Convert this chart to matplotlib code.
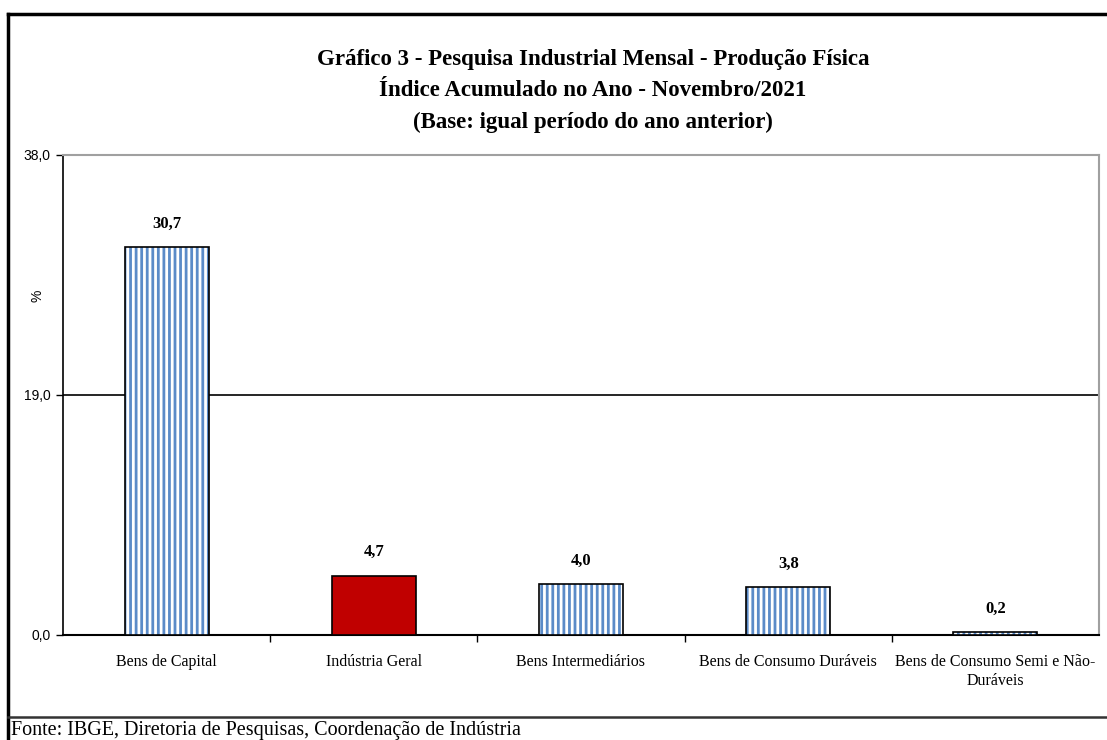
import matplotlib.pyplot as plt
from matplotlib.lines import Line2D
import numpy as np

# data
categorias = ["Bens de Capital", "Indústria Geral", "Bens Intermediários",
              "Bens de Consumo Duráveis", "Bens de Consumo Semi e Não-\nDuráveis"]
valores = [30.7, 4.7, 4.0, 3.8, 0.2]
rotulos = ["30,7", "4,7", "4,0", "3,8", "0,2"]
yticks = [0.0, 19.0, 38.0]
ytick_labels = ["0,0", "19,0", "38,0"]

azul = "#5B8BC8"
vermelho = "#C00000"

plt.rcParams['hatch.linewidth'] = 2.0

fig = plt.figure(figsize=(11.07, 7.40), dpi=100)
ax = fig.add_axes([63 / 1107, 1 - 635 / 740, 1036 / 1107, 480 / 740])

x = np.arange(len(categorias))
largura = 0.405
for i, v in enumerate(valores):
    if i == 1:
        ax.bar(x[i], v, largura, color=vermelho, edgecolor="black", linewidth=1.2, zorder=3)
    else:
        ax.bar(x[i], v, largura, color="white", edgecolor=azul, hatch="|||", linewidth=0, zorder=3)
        ax.bar(x[i], v, largura, fill=False, edgecolor="black", linewidth=1.2, zorder=4)
    ax.annotate(rotulos[i], (x[i], v), xytext=(0, 11), textcoords="offset points",
                ha="center", va="bottom", fontsize=12, fontweight="bold",
                family="Liberation Serif")

ax.set_xlim(-0.5, len(categorias) - 0.5)
ax.set_ylim(0, 38)
ax.set_yticks(yticks)
ax.set_yticklabels(ytick_labels, family="Liberation Sans", fontsize=10)
ax.tick_params(axis="y", direction="out", length=5, width=1, pad=4)

ax.set_xticks(x)
ax.set_xticklabels(categorias, family="Liberation Serif", fontsize=11.5)
ax.tick_params(axis="x", which="major", length=0, pad=14)
ax.set_xticks(np.arange(0.5, len(categorias) - 0.5, 1.0), minor=True)
ax.tick_params(axis="x", which="minor", direction="out", length=5, width=1)

ax.axhline(19, color="black", linewidth=1.2, zorder=2)

for s in ["top", "right"]:
    ax.spines[s].set_color("#A0A0A0")
    ax.spines[s].set_linewidth(1.5)
ax.spines["left"].set_linewidth(1.2)
ax.spines["bottom"].set_linewidth(1.5)

fig.text(37 / 1107, 1 - 296 / 740, "%", rotation=90, ha="center", va="center",
         fontsize=10, family="Liberation Sans")

titulo = ("Gráfico 3 - Pesquisa Industrial Mensal - Produção Física\n"
          "Índice Acumulado no Ano - Novembro/2021\n"
          "(Base: igual período do ano anterior)")
fig.text(593 / 1107, 1 - 91 / 740, titulo, ha="center", va="center", fontsize=16.5,
         fontweight="bold", family="Liberation Serif", linespacing=1.65)

# moldura
fig.add_artist(Line2D([8 / 1107, 8 / 1107], [0, 1 - 14 / 740], color="black", linewidth=2.5))
fig.add_artist(Line2D([8 / 1107, 1], [1 - 14 / 740, 1 - 14 / 740], color="black", linewidth=2.5))
fig.add_artist(Line2D([8 / 1107, 1], [1 - 717 / 740, 1 - 717 / 740], color="#333333", linewidth=1.8))

fig.text(11 / 1107, 1 - 730 / 740, "Fonte: IBGE, Diretoria de Pesquisas, Coordenação de Indústria",
         ha="left", va="center", fontsize=14.5, family="Liberation Serif")

fig.savefig("out.png", dpi=100)
